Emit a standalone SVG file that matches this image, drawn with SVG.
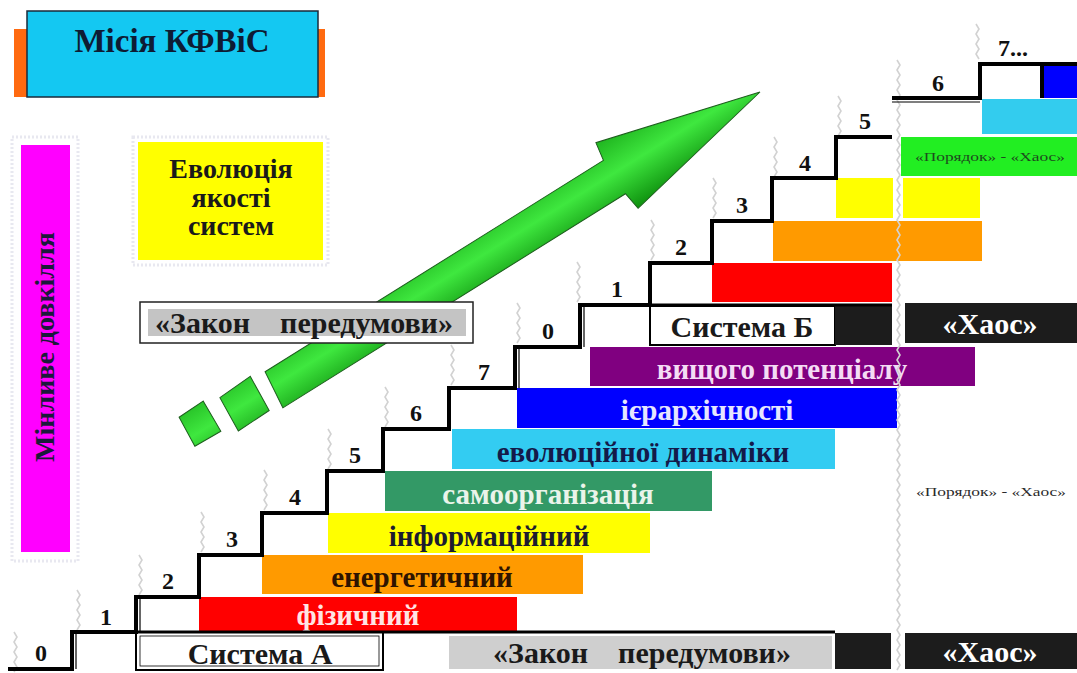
<svg xmlns="http://www.w3.org/2000/svg" width="1077" height="673" viewBox="0 0 1077 673">
<defs>
<style>
.t{font-family:"Liberation Serif","Times New Roman",serif;font-weight:bold;text-anchor:middle}
.num{font-size:24px;fill:#111}
.bar{font-size:29px}
.big{font-size:30px}
.small{font-family:"Liberation Serif","Times New Roman",serif;font-size:13px;text-anchor:middle}
.stair{fill:none;stroke:#000;stroke-width:4;stroke-linejoin:miter}
.thin{fill:none;stroke:#000;stroke-width:1.2}
.wave{fill:none;stroke:#d2d2d2;stroke-width:1.6}
.dotb{fill:none;stroke:#e8e8f0;stroke-width:3;stroke-dasharray:2 2}
</style>
<linearGradient id="ag" gradientUnits="userSpaceOnUse" x1="0" y1="-45" x2="0" y2="36">
<stop offset="0" stop-color="#1fb41f"/>
<stop offset="0.45" stop-color="#3fe83f"/>
<stop offset="1" stop-color="#0c8c0c"/>
</linearGradient>
</defs>
<rect width="1077" height="673" fill="#fff"/>

<!-- decorative wavy guide lines -->
<g id="guides">
<path class="wave" d="M14,632 l3,5 l-3,5 l3,5 l-3,5 l3,5 l-3,5 l3,5 l-3,5"/>
<path class="wave" d="M77,590 l3,5 l-3,5 l3,5 l-3,5 l3,5 l-3,5 l3,5 l-3,5"/>
<path class="wave" d="M139,555 l3,5 l-3,5 l3,5 l-3,5 l3,5 l-3,5 l3,5 l-3,5"/>
<path class="wave" d="M201,512 l3,5 l-3,5 l3,5 l-3,5 l3,5 l-3,5 l3,5 l-3,5"/>
<path class="wave" d="M264,470 l3,5 l-3,5 l3,5 l-3,5 l3,5 l-3,5 l3,5 l-3,5"/>
<path class="wave" d="M328,429 l3,5 l-3,5 l3,5 l-3,5 l3,5 l-3,5 l3,5 l-3,5"/>
<path class="wave" d="M385,387 l3,5 l-3,5 l3,5 l-3,5 l3,5 l-3,5 l3,5 l-3,5"/>
<path class="wave" d="M451,345 l3,5 l-3,5 l3,5 l-3,5 l3,5 l-3,5 l3,5 l-3,5"/>
<path class="wave" d="M517,303 l3,5 l-3,5 l3,5 l-3,5 l3,5 l-3,5 l3,5 l-3,5"/>
<path class="wave" d="M577,262 l3,5 l-3,5 l3,5 l-3,5 l3,5 l-3,5 l3,5 l-3,5"/>
<path class="wave" d="M651,220 l3,5 l-3,5 l3,5 l-3,5 l3,5 l-3,5 l3,5 l-3,5"/>
<path class="wave" d="M713,178 l3,5 l-3,5 l3,5 l-3,5 l3,5 l-3,5 l3,5 l-3,5"/>
<path class="wave" d="M774,137 l3,5 l-3,5 l3,5 l-3,5 l3,5 l-3,5 l3,5 l-3,5"/>
<path class="wave" d="M838,96 l3,5 l-3,5 l3,5 l-3,5 l3,5 l-3,5 l3,5 l-3,5"/>
<path class="wave" d="M976,24 l3,5 l-3,5 l3,5 l-3,5 l3,5 l-3,5 l3,5"/>
</g>

<!-- green evolution arrow -->
<g id="arrow" fill="url(#ag)" stroke="#1d5e1d" stroke-width="1">
<path transform="translate(760,92) rotate(-32)" d="M0,0 L-166,-44 L-169,-25 L-568,-25 L-572,15 L-168,15 L-165,34 Z"/>
<path transform="translate(760,92) rotate(-32)" d="M-583,-29 L-620,-27 L-622,11 L-585,10 Z"/>
<path transform="translate(760,92) rotate(-32)" d="M-636,-33 L-665,-32 L-667,1 L-637,2 Z"/>
</g>

<!-- mission box -->
<g id="mission">
<rect x="14" y="29" width="311" height="68" fill="#ff6a10"/>
<rect x="27" y="11" width="291" height="86" fill="#14c8f2" stroke="#1a2a3a" stroke-width="1.5"/>
<text class="t" x="172" y="52" font-size="33" fill="#0e1c34">Місія КФВіС</text>
</g>

<!-- environment bar -->
<g id="environment">
<rect class="dotb" x="12" y="137" width="66" height="424"/>
<rect x="21" y="145" width="49" height="407" fill="#ff00ff"/>
<text class="t" transform="translate(54,347) rotate(-90)" font-size="28" fill="#1a1a3a">Мінливе довкілля</text>
</g>

<!-- evolution box -->
<g id="evolution">
<rect class="dotb" x="133" y="137" width="195" height="128"/>
<rect x="138" y="142" width="185" height="118" fill="#ffff00"/>
<text class="t" x="231" y="178" font-size="28" fill="#1a1a1a">Еволюція</text>
<text class="t" x="231" y="207" font-size="28" fill="#1a1a1a">якості</text>
<text class="t" x="231" y="235" font-size="28" fill="#1a1a1a">систем</text>
</g>

<!-- law box top -->
<g id="law-top">
<rect x="140" y="302" width="333" height="41" fill="#fff" stroke="#222" stroke-width="1.5"/>
<rect x="148" y="309" width="318" height="27" fill="#c4c4c4"/>
<text class="t big" x="304" y="333" fill="#1a1a1a" xml:space="preserve">«Закон    передумови»</text>
</g>

<!-- colour bars, system A -->
<g id="level-1"><rect x="199" y="597" width="318" height="35" fill="#ff0000"/><text class="t bar" x="358" y="625" fill="#ffe4e4">фізичний</text></g>
<g id="level-2"><rect x="262" y="555" width="321" height="39" fill="#ff9a00"/><text class="t bar" x="422" y="587" fill="#2e1400">енергетичний</text></g>
<g id="level-3"><rect x="328" y="513" width="322" height="40" fill="#ffff00"/><text class="t bar" x="489" y="546" fill="#1c1c30">інформаційний</text></g>
<g id="level-4"><rect x="385" y="471" width="327" height="40" fill="#339966"/><text class="t bar" x="548" y="504" fill="#eaf4ea">самоорганізація</text></g>
<g id="level-5"><rect x="452" y="429" width="383" height="40" fill="#33ccf2"/><text class="t bar" x="643" y="462" fill="#141a4a">еволюційної динаміки</text></g>
<g id="level-6"><rect x="517" y="388" width="380" height="40" fill="#0000ff"/><text class="t bar" x="707" y="420" fill="#e6e6ff">ієрархічності</text></g>
<g id="level-7"><rect x="590" y="347" width="385" height="39" fill="#800080"/><text class="t bar" x="782" y="379" fill="#f4dcf4">вищого потенціалу</text></g>

<!-- colour bars, system B -->
<g id="b-level-1"><rect x="712" y="263" width="180" height="39" fill="#ff0000"/></g>
<g id="b-level-2"><rect x="773" y="221" width="209" height="40" fill="#ff9a00"/></g>
<g id="b-level-3"><rect x="836" y="178" width="57" height="40" fill="#ffff00"/><rect x="903" y="178" width="77" height="40" fill="#ffff00"/></g>
<g id="b-level-4"><rect x="901" y="137" width="176" height="39" fill="#22ee22"/><text class="small" x="990" y="161" fill="#1e4a1e" textLength="150" lengthAdjust="spacingAndGlyphs">«Порядок» - «Хаос»</text></g>
<g id="b-level-5"><rect x="982" y="99" width="95" height="35" fill="#33ccee"/></g>
<g id="b-level-6"><rect x="1043" y="64" width="34" height="34" fill="#0000ff"/></g>

<!-- bottom row -->
<g id="system-a">
<rect x="136" y="632" width="247" height="38" fill="#fff" stroke="#000" stroke-width="2"/>
<rect x="140" y="636" width="239" height="30" fill="none" stroke="#000" stroke-width="0.8"/>
<text class="t big" x="260" y="664" fill="#1a1a1a">Система А</text>
</g>
<g id="law-bottom">
<rect x="449" y="636" width="383" height="33" fill="#cfcfcf"/>
<text class="t big" x="642" y="663" fill="#1a1a1a" xml:space="preserve">«Закон    передумови»</text>
</g>
<g id="chaos-bottom">
<rect x="835" y="633" width="56" height="36" fill="#1c1c1c"/>
<rect x="905" y="633" width="172" height="36" fill="#1c1c1c"/>
<text class="t big" x="990" y="662" fill="#fff">«Хаос»</text>
</g>

<!-- system B row -->
<g id="system-b">
<rect x="650" y="306" width="185" height="39" fill="#fff" stroke="#000" stroke-width="2"/>
<text class="t big" x="742" y="337" fill="#1a1a1a">Система Б</text>
</g>
<g id="chaos-top">
<rect x="835" y="305" width="57" height="40" fill="#1c1c1c"/>
<rect x="905" y="303" width="172" height="40" fill="#1c1c1c"/>
<text class="t big" x="990" y="334" fill="#fff">«Хаос»</text>
</g>

<!-- order/chaos label -->
<g id="order-chaos">
<text class="small" x="991" y="496" fill="#2a2a2a" textLength="150" lengthAdjust="spacingAndGlyphs">«Порядок» - «Хаос»</text>
</g>

<!-- divider -->
<g id="divider">
<path class="wave" d="M897,60 l3,5 l-3,5 l3,5 l-3,5 l3,5 l-3,5 l3,5 l-3,5 l3,5 l-3,5 l3,5 l-3,5 l3,5 l-3,5 l3,5 l-3,5 l3,5 l-3,5 l3,5 l-3,5 l3,5 l-3,5 l3,5 l-3,5 l3,5 l-3,5 l3,5 l-3,5 l3,5 l-3,5 l3,5 l-3,5 l3,5 l-3,5 l3,5 l-3,5 l3,5 l-3,5 l3,5 l-3,5 l3,5 l-3,5 l3,5 l-3,5 l3,5 l-3,5 l3,5 l-3,5 l3,5 l-3,5 l3,5 l-3,5 l3,5 l-3,5 l3,5 l-3,5 l3,5 l-3,5 l3,5 l-3,5 l3,5 l-3,5 l3,5 l-3,5 l3,5 l-3,5 l3,5 l-3,5 l3,5 l-3,5 l3,5 l-3,5 l3,5 l-3,5 l3,5 l-3,5 l3,5 l-3,5 l3,5 l-3,5 l3,5 l-3,5 l3,5 l-3,5 l3,5 l-3,5 l3,5 l-3,5 l3,5 l-3,5 l3,5 l-3,5 l3,5 l-3,5 l3,5 l-3,5 l3,5 l-3,5 l3,5 l-3,5 l3,5 l-3,5 l3,5 l-3,5 l3,5 l-3,5 l3,5 l-3,5 l3,5 l-3,5 l3,5 l-3,5 l3,5 l-3,5 l3,5 l-3,5 l3,5 l-3,5 l3,5 l-3,5 l3,5 l-3,5"/>
</g>

<!-- staircase -->
<g id="connectors">
<path class="stair" d="M8,669 H72 V632 H136 V597 H199 V555 H262 V513 H327 V471 H383 V429 H449 V388 H515 V347 H580 V305 H650 V263 H712 V221 H772 V178 H836 V137 H892"/>
<path class="stair" d="M892,98 H980 V64 H1077"/>
<path class="stair" d="M1042,64 V98"/>
<path class="stair" style="stroke-width:3" d="M72,632 H835"/>
<path class="stair" style="stroke-width:3" d="M580,305 H892"/>
<path class="thin" d="M76,633 V669 M140,598 V632 M519,348 V388 M584,306 V347 M892,102 H980"/>
</g>

<!-- step numbers -->
<g id="step-labels">
<text class="t num" x="41" y="661">0</text>
<text class="t num" x="106" y="625">1</text>
<text class="t num" x="168" y="589">2</text>
<text class="t num" x="232" y="547">3</text>
<text class="t num" x="295" y="505">4</text>
<text class="t num" x="355" y="463">5</text>
<text class="t num" x="416" y="421">6</text>
<text class="t num" x="484" y="380">7</text>
<text class="t num" x="548" y="339">0</text>
<text class="t num" x="617" y="297">1</text>
<text class="t num" x="681" y="255">2</text>
<text class="t num" x="742" y="213">3</text>
<text class="t num" x="805" y="171">4</text>
<text class="t num" x="865" y="129">5</text>
<text class="t num" x="938" y="91">6</text>
<text class="t num" x="1013" y="56">7...</text>
</g>
</svg>
